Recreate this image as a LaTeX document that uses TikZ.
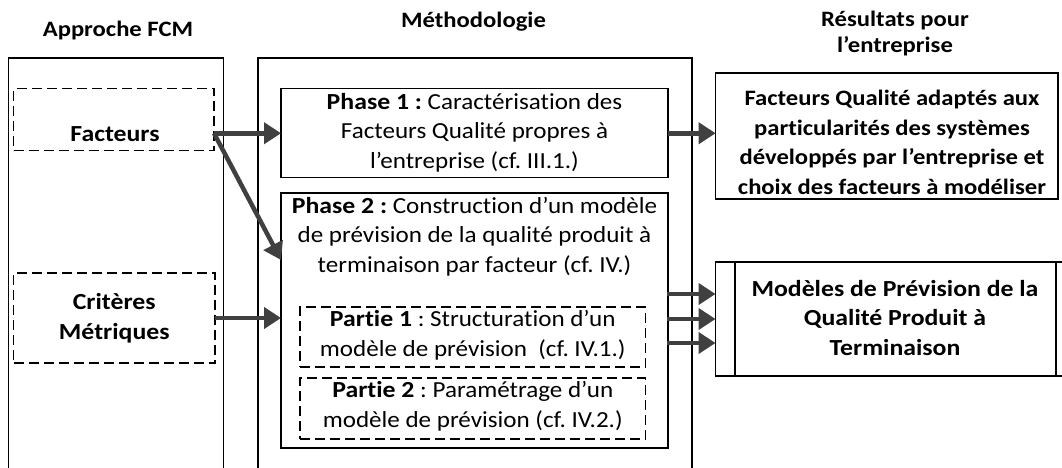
\documentclass[tikz,border=0pt]{standalone}
\usepackage{fontspec}
\setmainfont{Carlito}[Ligatures=NoCommon, UprightFeatures={FakeStretch=1.09}, BoldFeatures={FakeStretch=1.12}]
\usetikzlibrary{arrows.meta,calc}
\definecolor{arrgray}{HTML}{404040}
\frenchspacing
\begin{document}
\begin{tikzpicture}[x=1pt,y=-1pt,
  every node/.style={inner sep=0pt, outer sep=0pt},
  frame/.style={draw, line width=1.2pt, rectangle},
  dbox/.style={draw, line width=1.1pt, dash pattern=on 10pt off 5pt, rectangle},
  txt/.style={align=center, font=\fontsize{23}{29.5}\selectfont},
  btxt/.style={align=center, font=\fontsize{23}{29.5}\selectfont\bfseries},
  ttl/.style={align=center, font=\fontsize{22}{26}\selectfont\bfseries},
  arr/.style={draw=arrgray, line width=4.5pt, -{Triangle[length=17pt,width=21pt]}}
]
\useasboundingbox (0,0) rectangle (1062,468);
\clip (0,0) rectangle (1062,468);

% titles
\node[ttl, anchor=base] (t1) at (118,37) {Approche FCM};
\node[ttl, anchor=base] (t2) at (473.5,28) {Méthodologie};
\node[ttl, anchor=base] (t3) at (895,53) {Résultats pour\\l’entreprise};

% columns
\node[frame, minimum width=215pt, minimum height=442pt] (fcm) at (116,279) {};
\node[frame, minimum width=434pt, minimum height=442pt] (meth) at (475,279) {};

% FCM boxes
\node[dbox, minimum width=200.5pt, minimum height=62pt] (fact) at (113.75,119.7) {};
\node[btxt, anchor=base] (factt) at (115,141) {Facteurs};
\node[dbox, minimum width=201.5pt, minimum height=90pt, btxt] (crit) at (114.25,318) {Critères\\Métriques};

% methodology
\node[frame, minimum width=387pt, minimum height=89pt] (ph1) at (474.5,133.25) {};
\node[txt] (ph1t) at (474.5,132.5)
  {\textbf{Phase 1 :} Caractérisation des\\Facteurs Qualité propres à\\l’entreprise (cf. III.1.)};
\node[frame, minimum width=387pt, minimum height=255pt] (ph2) at (474.5,320.5) {};
\node[txt] (ph2t) at (474.5,236.5)
  {\textbf{Phase 2 :} Construction d’un modèle\\de prévision de la qualité produit à\\terminaison par facteur (cf. IV.)};
\node[dbox, minimum width=345.5pt, minimum height=60pt] (p1) at (472.75,337) {};
\node[txt] (p1t) at (472.75,335)
  {\textbf{Partie 1} : Structuration d’un\\modèle de prévision~ (cf. IV.1.)};
\node[dbox, minimum width=345.5pt, minimum height=61pt] (p2) at (472.75,408.5) {};
\node[txt] (p2t) at (472.75,406)
  {\textbf{Partie 2} : Paramétrage d’un\\modèle de prévision (cf. IV.2.)};

% results
\node[frame, minimum width=342.4pt, minimum height=126pt] (res1) at (886.8,136) {};
\node[btxt, font=\fontsize{22}{29.5}\selectfont\bfseries] (res1t) at (892,142.5)
  {Facteurs Qualité adaptés aux\\particularités des systèmes\\développés par l’entreprise et\\choix des facteurs à modéliser};
\node[frame, minimum width=360pt, minimum height=114pt] (res2) at (895.5,319) {};
\draw[line width=1.2pt] ($(res2.north west)+(19.5,0)$) -- ($(res2.south west)+(19.5,0)$);
\draw[line width=1.2pt] ($(res2.north east)+(-19.5,0)$) -- ($(res2.south east)+(-19.5,0)$);
\node[btxt] (res2t) at (895,318)
  {Modèles de Prévision de la\\Qualité Produit à\\Terminaison};

% arrows
\coordinate (fs) at (fact.east |- ph1.west);
\coordinate (d2) at ($(ph2.north west)+(0,67)$);
\draw[arr] (fs) -- (ph1.west);
\draw[arr] (fs) -- (d2);
\draw[arr] (crit.east) -- (crit.east -| ph2.west);
\draw[arr] (ph1.east) -- (ph1.east -| res1.west);
\coordinate (ra) at ($(res2.west)+(0,-25)$);
\coordinate (rb) at (res2.west);
\coordinate (rc) at ($(res2.west)+(0,24)$);
\draw[arr] ($(ph2.east |- ra)+(-1.5,0)$) -- (ra);
\draw[arr] ($(ph2.east |- rb)+(-1.5,0)$) -- (rb);
\draw[arr] ($(ph2.east |- rc)+(-1.5,0)$) -- (rc);
\end{tikzpicture}
\end{document}
